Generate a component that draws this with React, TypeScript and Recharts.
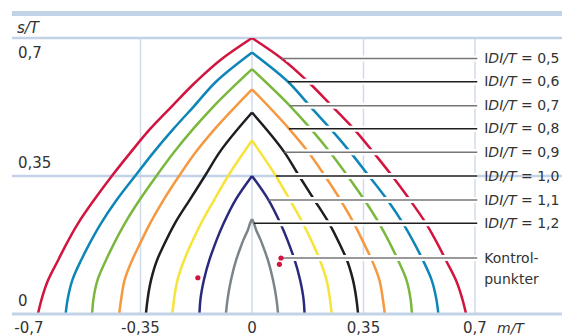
import { ComposedChart, Line, Scatter, XAxis, YAxis, CartesianGrid } from 'recharts';

// |D|/T levels shown in the legend
const idiLabels = ['0,5', '0,6', '0,7', '0,8', '0,9', '1,0', '1,1', '1,2'];
const curveColors = ['#d2143f', '#0d86b7', '#79b83d', '#f5983f', '#1e1e1e', '#f6e43a', '#2a2a7c', '#7b8488'];

// half profiles: s/T (apex -> foot) and |m/T| at that height
const s05 = [0.700, 0.648, 0.589, 0.528, 0.470, 0.410, 0.350, 0.289, 0.230, 0.171, 0.139, 0.086, 0.036, 0];
const m05 = [0, 0.093, 0.176, 0.250, 0.319, 0.381, 0.440, 0.496, 0.546, 0.587, 0.607, 0.640, 0.661, 0.672];
const s06 = [0.663, 0.589, 0.528, 0.470, 0.410, 0.350, 0.289, 0.230, 0.171, 0.139, 0.086, 0.036, 0];
const m06 = [0, 0.113, 0.181, 0.246, 0.309, 0.367, 0.425, 0.474, 0.515, 0.535, 0.564, 0.579, 0.585];
const s07 = [0.621, 0.528, 0.470, 0.410, 0.350, 0.289, 0.230, 0.171, 0.139, 0.086, 0.036, 0];
const m07 = [0, 0.119, 0.184, 0.245, 0.300, 0.353, 0.399, 0.438, 0.457, 0.485, 0.498, 0.502];
const s08 = [0.570, 0.470, 0.410, 0.350, 0.289, 0.230, 0.171, 0.139, 0.086, 0.036, 0];
const m08 = [0, 0.116, 0.177, 0.229, 0.278, 0.320, 0.356, 0.375, 0.400, 0.411, 0.417];
const s09 = [0.511, 0.410, 0.350, 0.289, 0.230, 0.171, 0.139, 0.086, 0.036, 0];
const m09 = [0, 0.102, 0.148, 0.196, 0.242, 0.279, 0.297, 0.317, 0.328, 0.333];
const s10 = [0.440, 0.350, 0.289, 0.230, 0.171, 0.139, 0.086, 0.036, 0];
const m10 = [0, 0.075, 0.119, 0.160, 0.195, 0.212, 0.234, 0.245, 0.250];
const s11 = [0.350, 0.289, 0.230, 0.188, 0.171, 0.139, 0.086, 0.036, 0];
const m11 = [0, 0.052, 0.089, 0.111, 0.119, 0.133, 0.151, 0.162, 0.165];
const s12 = [0.241, 0.230, 0.213, 0.188, 0.171, 0.139, 0.086, 0.036, 0];
const m12 = [0, 0.006, 0.013, 0.027, 0.035, 0.049, 0.066, 0.077, 0.082];

// leader lines to the labels on the right (last one = Kontrolpunkter)
const leaderS = [0.648, 0.589, 0.528, 0.470, 0.410, 0.350, 0.289, 0.230, 0.142];
const leaderStartM = [0.093, 0.113, 0.119, 0.116, 0.102, 0.075, 0.052, 0.006, 0.091];
const leaderEndM = 0.707;
const leaderColors = ['#777', '#1e1e1e', '#777', '#1e1e1e', '#777', '#1e1e1e', '#777', '#1e1e1e', '#777'];

// control points
const controlM = [-0.170, 0.091, 0.086];
const controlS = [0.092, 0.142, 0.126];

const xTicks = [-0.7, -0.35, 0, 0.35, 0.7];
const yTicks = [0, 0.35, 0.7];
const xGrid = [-0.35, 0, 0.35, 0.7];
const yGrid = [0.35, 0.7];

const FONT = '"DejaVu Sans", sans-serif';
const GRID = '#c3d3e7';
const fmt = (v: number) => String(v).replace('.', ',');

const profiles = [[s05, m05], [s06, m06], [s07, m07], [s08, m08], [s09, m09], [s10, m10], [s11, m11], [s12, m12]];

// both branches ordered foot -> apex so s rises along the path (monotoneY)
const branch = (s: number[], m: number[], side: number) =>
  s.map((sv, i) => ({ m: side * m[i], s: sv })).reverse();

const controlData = controlM.map((m, i) => ({ m, s: controlS[i] }));

function XTick(props: any) {
  const { x, payload } = props;
  return (
    <text x={x} y={333} textAnchor="middle" fontSize={15} fontFamily={FONT} fill="#333">
      {fmt(payload.value)}
    </text>
  );
}

function YTick(props: any) {
  const { y, payload } = props;
  const v = payload.value;
  return (
    <text x={18} y={v === 0.7 ? y + 20 : y - 8} textAnchor="start" fontSize={15} fontFamily={FONT} fill="#333">
      {fmt(v)}
    </text>
  );
}

function leaderDot(i: number) {
  return (props: any) => {
    const { cx, cy, index } = props;
    if (index !== 1) return <g key={`d${i}-${index}`} />;
    const tx = cx + 7;
    if (i === idiLabels.length) {
      return (
        <text key={`d${i}-${index}`} x={tx} y={cy + 5} fontSize={14} fontFamily={FONT} fill="#333">
          <tspan x={tx}>Kontrol-</tspan>
          <tspan x={tx} dy={21}>punkter</tspan>
        </text>
      );
    }
    return (
      <text key={`d${i}-${index}`} x={tx} y={cy + 4.6} fontSize={14} fontFamily={FONT} fill="#333">
        <tspan>I</tspan>
        <tspan fontStyle="italic">DI/T</tspan>
        <tspan>{' = ' + idiLabels[i]}</tspan>
      </text>
    );
  };
}

export default function App() {
  return (
    <div style={{ position: 'absolute', left: 0, top: 0, width: 562, height: 336, background: '#fff' }}>
      <svg width={562} height={336} style={{ position: 'absolute', left: 0, top: 0 }}>
        <rect x={12} y={11} width={550} height={5} fill={GRID} />
        <text x={17} y={33} fontSize={15} fontStyle="italic" fontFamily={FONT} fill="#333">s/T</text>
        <text x={497} y={333} fontSize={14} fontStyle="italic" fontFamily={FONT} fill="#333">m/T</text>
      </svg>
      <div style={{ position: 'absolute', left: 0, top: 0 }}>
        <ComposedChart width={562} height={336} margin={{ top: 38, right: 0, bottom: 0, left: 0 }}>
          <CartesianGrid horizontal={false} verticalValues={xGrid} stroke="#d0dbea" strokeWidth={1.5} />
          <CartesianGrid vertical={false} horizontalValues={yGrid} stroke={GRID} strokeWidth={2.5} />
          <XAxis
            type="number"
            dataKey="m"
            domain={[-0.7534, 0.9731]}
            allowDataOverflow
            ticks={xTicks}
            interval={0}
            height={22}
            tickLine={false}
            axisLine={{ stroke: GRID, strokeWidth: 3 }}
            tick={XTick}
          />
          <YAxis
            type="number"
            dataKey="s"
            domain={[0, 0.7]}
            allowDataOverflow
            ticks={yTicks}
            interval={0}
            width={12}
            axisLine={false}
            tickLine={false}
            tick={YTick}
          />
          {profiles.map(([s, m], i) => (
            <Line
              key={`l${i}`}
              data={branch(s, m, -1)}
              dataKey="s"
              type="monotoneY"
              stroke={curveColors[i]}
              strokeWidth={2.5}
              dot={false}
              activeDot={false}
              isAnimationActive={false}
            />
          ))}
          {profiles.map(([s, m], i) => (
            <Line
              key={`r${i}`}
              data={branch(s, m, 1)}
              dataKey="s"
              type="monotoneY"
              stroke={curveColors[i]}
              strokeWidth={2.5}
              dot={false}
              activeDot={false}
              isAnimationActive={false}
            />
          ))}
          {leaderS.map((s, i) => (
            <Line
              key={`c${i}`}
              data={[{ m: leaderStartM[i] + 0.014, s }, { m: leaderEndM, s }]}
              dataKey="s"
              type="linear"
              stroke="#fff"
              strokeWidth={6}
              dot={false}
              activeDot={false}
              isAnimationActive={false}
            />
          ))}
          {leaderS.map((s, i) => (
            <Line
              key={`k${i}`}
              data={[{ m: leaderStartM[i], s }, { m: leaderEndM, s }]}
              dataKey="s"
              type="linear"
              stroke={leaderColors[i]}
              strokeWidth={1.5}
              dot={leaderDot(i)}
              activeDot={false}
              isAnimationActive={false}
            />
          ))}
          <Scatter
            data={controlData}
            dataKey="s"
            fill="#d2143f"
            isAnimationActive={false}
            shape={(p: any) => <circle cx={p.cx} cy={p.cy} r={2.6} fill="#d2143f" />}
          />
        </ComposedChart>
      </div>
    </div>
  );
}
